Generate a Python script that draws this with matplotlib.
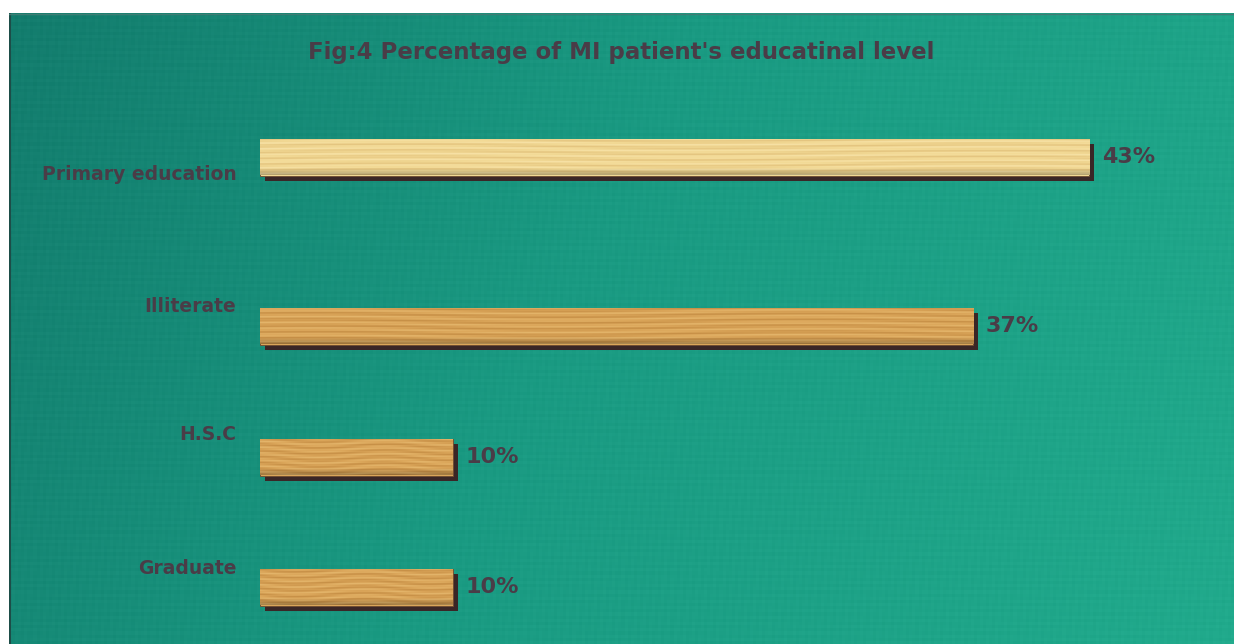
import numpy as np
import matplotlib
matplotlib.use("Agg")
import matplotlib.pyplot as plt
from matplotlib.colors import to_rgb

# Data
categories = ["Primary education", "Illiterate", "H.S.C", "Graduate"]
percentages = [43, 37, 10, 10]
value_labels = ["43%", "37%", "10%", "10%"]
title = "Fig:4 Percentage of MI patient's educatinal level"

# Layout (pixel rows of the figure, measured from the top)
W, H = 1234, 644
panel_left, panel_top = 9, 13
bar_rows = [157, 326, 457, 587]
label_rows = [173, 304, 433, 566]
bar_h = 37
plot_left = 260
px_per_pct = 19.28

text_color = "#4a3c47"
shadow_color = "#3a2626"
wood = {
    0: ("#f2d994", "#dfbd78", "#fbe9b6"),
    1: ("#dba65a", "#c08840", "#ecc47c"),
    2: ("#dba65a", "#c08840", "#ecc47c"),
    3: ("#dba65a", "#c08840", "#ecc47c"),
}

plt.rcParams["font.family"] = ["DejaVu Sans"]
fig = plt.figure(figsize=(W / 100, H / 100), dpi=100, facecolor="white")

# Green textured panel
bg = fig.add_axes([panel_left / W, 0, 1 - panel_left / W, 1 - panel_top / H])
gx = np.linspace(0, 1, 400)[None, :]
gy = np.linspace(0, 1, 200)[:, None]
c_dark = np.array(to_rgb("#137c6d"))
c_mid = np.array(to_rgb("#1a9a82"))
c_light = np.array(to_rgb("#21aa8c"))
t = np.clip(0.8 * gx + 0.2 * gy, 0, 1)[..., None]
grad = np.where(t < 0.45, c_dark + (c_mid - c_dark) * (t / 0.45),
                c_mid + (c_light - c_mid) * ((t - 0.45) / 0.55))
grain = (0.005 * np.sin(gx * 910 + gy * 47) + 0.006 * np.sin(gy * 720 + gx * 23))[..., None]
bg.imshow(np.clip(grad + grain, 0, 1), aspect="auto", extent=(0, 1, 0, 1), origin="upper")
bg.set_xlim(0, 1)
bg.set_ylim(0, 1)
bg.axis("off")
bg.axvline(0.001, color="#1d4d48", lw=1.5)
bg.axhline(0.999, color="#3f7d74", lw=1.0)

# Bar chart axes
x_max = (W - plot_left) / px_per_pct
ax = fig.add_axes([plot_left / W, 0, 1 - plot_left / W, 1 - panel_top / H])
ax.set_xlim(0, x_max)
ax.set_ylim(H, panel_top)
ax.patch.set_alpha(0)
for s in ax.spines.values():
    s.set_visible(False)
ax.set_xticks([])
ax.set_yticks(label_rows, labels=categories)
ax.tick_params(axis="y", length=0, pad=17, labelsize=13.5, labelcolor=text_color)
for lab in ax.get_yticklabels():
    lab.set_fontweight("bold")

shift_x = 5 / px_per_pct
for i, (y, v) in enumerate(zip(bar_rows, percentages)):
    # drop shadow
    ax.barh(y + 5, v, left=shift_x, height=bar_h, color=shadow_color, zorder=1)
    # wooden bar
    bars = ax.barh(y, v, height=bar_h, color=wood[i][0], edgecolor="#6b4a30",
                   linewidth=0.6, zorder=2)
    base, dark, light = (np.array(to_rgb(c)) for c in wood[i])
    xx = np.linspace(0, 1, 600)[None, :]
    yy = np.linspace(0, 1, 60)[:, None]
    s1 = np.sin(yy * 37 + 2.0 * np.sin(xx * 9 + i)) * 0.5 + 0.5
    s2 = np.sin(yy * 83 + xx * 5 + i * 1.7) * 0.5 + 0.5
    mix = (0.55 * s1 + 0.45 * s2)[..., None]
    img = base + (dark - base) * np.clip(mix - 0.45, 0, 1) * 1.6 \
        + (light - base) * np.clip(0.45 - mix, 0, 1) * 1.4
    edge = np.clip((yy - 0.82) / 0.18, 0, 1)[..., None]
    img = img * (1 - 0.25 * edge)
    im = ax.imshow(np.clip(img, 0, 1), extent=(0, v, y + bar_h / 2, y - bar_h / 2),
                   aspect="auto", zorder=3, interpolation="bilinear")
    im.set_clip_path(bars.patches[0])
    ax.text(v + 0.65, y, value_labels[i], ha="left", va="center", fontsize=16,
            fontweight="bold", color=text_color, zorder=4)

ax.set_ylim(H, panel_top)
ax.set_xlim(0, x_max)

fig.text(621 / W, 1 - 52 / H, title, ha="center", va="center", fontsize=16.5,
         fontweight="bold", color=text_color)

fig.savefig("out.png", dpi=100, facecolor="white")
